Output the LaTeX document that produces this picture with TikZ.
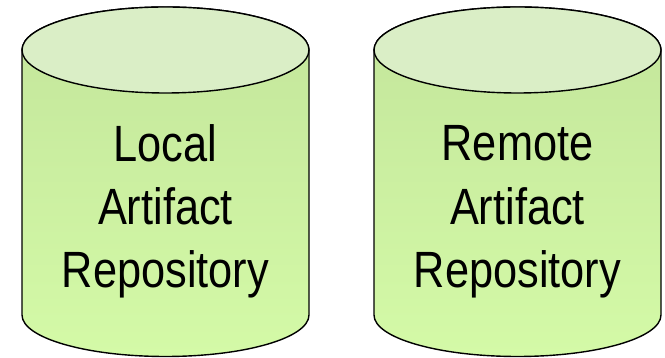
\documentclass[tikz,border=0pt]{standalone}
\usepackage{fontspec}
\newfontfamily\narrowfont[FakeStretch=0.85]{Liberation Sans}
\definecolor{topfill}{HTML}{DAEEC6}
\definecolor{bodytop}{HTML}{C3E59B}
\definecolor{bodybot}{HTML}{D4FAA7}
\begin{document}
\begin{tikzpicture}[x=1pt,y=1pt,
  cylbody/.style={draw=black,line width=1.4pt,top color=bodytop,bottom color=bodybot},
  cyltop/.style={draw=black,line width=1.4pt,fill=topfill},
  label/.style={font=\narrowfont\fontsize{51}{63}\selectfont,anchor=base,inner sep=0pt}]
\useasboundingbox (0,0) rectangle (665,358);
% left cylinder
\path[cylbody] (22,308) -- (22,43) arc[start angle=180,end angle=360,x radius=143.5,y radius=41.5] -- (309,308) arc[start angle=0,end angle=180,x radius=143.5,y radius=43] -- cycle;
\path[cyltop] (165.5,308) ellipse[x radius=143.5,y radius=43];
% right cylinder
\path[cylbody] (374,308) -- (374,43) arc[start angle=180,end angle=360,x radius=143.5,y radius=41.5] -- (661,308) arc[start angle=0,end angle=180,x radius=143.5,y radius=43] -- cycle;
\path[cyltop] (517.5,308) ellipse[x radius=143.5,y radius=43];
% texts
\node[label] (l1) at (165.5,196) {Local};
\node[label] (l2) at (165.5,133) {Artifact};
\node[label] (l3) at (165.5,70) {Repository};
\node[label] (r1) at (517.5,197) {Remote};
\node[label] (r2) at (517.5,133) {Artifact};
\node[label] (r3) at (517.5,70) {Repository};
\end{tikzpicture}
\end{document}
